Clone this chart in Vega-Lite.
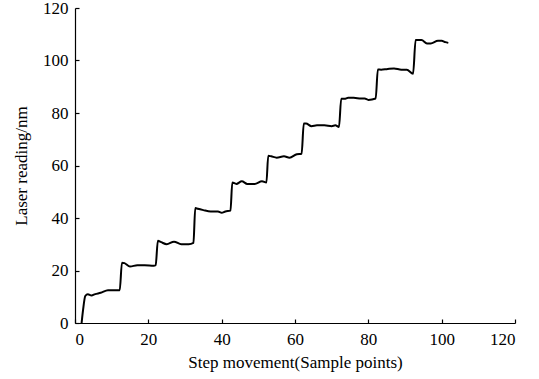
{
  "$schema": "https://vega.github.io/schema/vega-lite/v6.json",
  "width": 440,
  "height": 315,
  "autosize": "none",
  "padding": {"left": 75, "top": 8, "right": 24, "bottom": 56},
  "background": "white",
  "config": {
    "view": {"stroke": null},
    "axis": {
      "grid": false,
      "domainColor": "black",
      "domainWidth": 1.2,
      "tickColor": "black",
      "tickWidth": 1.2,
      "tickSize": -4,
      "labelFont": "Liberation Serif",
      "labelFontSize": 17,
      "labelColor": "black",
      "titleFont": "Liberation Serif",
      "titleFontSize": 17,
      "titleFontWeight": "normal",
      "titleColor": "black"
    }
  },
  "data": {
    "values": [
      {"x": 1.8, "y": 0}, {"x": 2.2, "y": 5}, {"x": 2.8, "y": 10.3}, {"x": 3.5, "y": 11}, {"x": 4.5, "y": 10.5},
      {"x": 5.5, "y": 11}, {"x": 7, "y": 11.5}, {"x": 9, "y": 12.5}, {"x": 12.2, "y": 12.5},
      {"x": 12.8, "y": 23}, {"x": 13.5, "y": 22.8}, {"x": 15, "y": 21.5}, {"x": 17, "y": 22}, {"x": 19, "y": 22}, {"x": 21.5, "y": 21.8}, {"x": 22, "y": 22},
      {"x": 22.6, "y": 31.3}, {"x": 23.5, "y": 30.8}, {"x": 25, "y": 30}, {"x": 27, "y": 31}, {"x": 29, "y": 30}, {"x": 31, "y": 30}, {"x": 32.3, "y": 30.5},
      {"x": 32.8, "y": 43.8}, {"x": 33.5, "y": 43.5}, {"x": 35, "y": 43}, {"x": 37, "y": 42.5}, {"x": 39, "y": 42.5}, {"x": 40, "y": 42}, {"x": 41, "y": 42.5}, {"x": 42.4, "y": 42.8},
      {"x": 42.9, "y": 53.5}, {"x": 44, "y": 53}, {"x": 45.5, "y": 54}, {"x": 47, "y": 53}, {"x": 49, "y": 53}, {"x": 51, "y": 54}, {"x": 52.2, "y": 53.5},
      {"x": 52.7, "y": 63.7}, {"x": 53.5, "y": 63.5}, {"x": 55, "y": 63}, {"x": 57, "y": 63.5}, {"x": 58.5, "y": 63}, {"x": 60.5, "y": 64.3}, {"x": 61.8, "y": 64.5},
      {"x": 62.4, "y": 76}, {"x": 63, "y": 76}, {"x": 64.5, "y": 75}, {"x": 66, "y": 75.3}, {"x": 68, "y": 75.3}, {"x": 70, "y": 75}, {"x": 71, "y": 75.3}, {"x": 72, "y": 74.7},
      {"x": 72.6, "y": 85.4}, {"x": 73.5, "y": 85.4}, {"x": 74.5, "y": 85.8}, {"x": 76, "y": 85.8}, {"x": 78, "y": 85.5}, {"x": 79, "y": 85.5}, {"x": 80, "y": 85}, {"x": 82, "y": 85.5},
      {"x": 82.6, "y": 96.6}, {"x": 83.5, "y": 96.5}, {"x": 85, "y": 96.7}, {"x": 87, "y": 97}, {"x": 89, "y": 96.5}, {"x": 90.5, "y": 96.5}, {"x": 92.2, "y": 95},
      {"x": 92.9, "y": 107.8}, {"x": 94.5, "y": 107.8}, {"x": 96, "y": 106.5}, {"x": 97, "y": 106.5}, {"x": 99, "y": 107.5}, {"x": 100, "y": 107.5}, {"x": 101, "y": 107}, {"x": 101.8, "y": 106.7}
    ]
  },
  "mark": {"type": "line", "color": "black", "strokeWidth": 2, "interpolate": "monotone"},
  "encoding": {
    "x": {
      "field": "x", "type": "quantitative",
      "scale": {"domain": [0, 120], "nice": false},
      "axis": {"values": [0, 20, 40, 60, 80, 100, 120], "title": "Step movement(Sample points)", "labelPadding": 12, "titlePadding": 7}
    },
    "y": {
      "field": "y", "type": "quantitative",
      "scale": {"domain": [0, 120], "nice": false},
      "axis": {"values": [0, 20, 40, 60, 80, 100, 120], "title": "Laser reading/nm", "labelPadding": 11, "titlePadding": 12}
    }
  }
}
